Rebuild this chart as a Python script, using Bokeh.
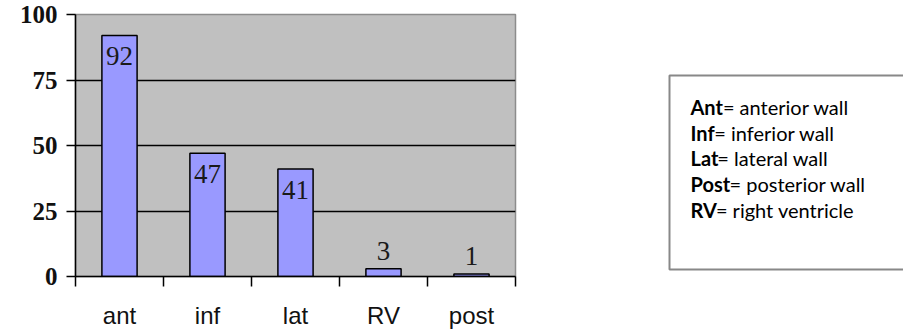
from bokeh.plotting import figure
from bokeh.layouts import row
from bokeh.models import Range1d, FixedTicker, ColumnDataSource
from bokeh.core.properties import value
from bokeh.embed import file_html
from bokeh.resources import INLINE

# Infarct location counts
categories = ["ant", "inf", "lat", "RV", "post"]
counts = [92, 47, 41, 3, 1]
y_ticks = [0, 25, 50, 75, 100]

# Abbreviation key
legend_abbr = ["Ant", "Inf", "Lat", "Post", "RV"]
legend_desc = ["= anterior wall", "= inferior wall", "= lateral wall",
               "= posterior wall", "= right ventricle"]

# plot frame borders shared by both panels (pixels)
B_TOP, B_BOTTOM = 14, 55
H = 331

# ---- bar chart -------------------------------------------------------------
p = figure(width=600, height=H, output_backend="svg", toolbar_location=None,
           x_range=Range1d(0, len(categories)), y_range=Range1d(0, 100),
           min_border_left=75, min_border_right=85, min_border_top=B_TOP,
           min_border_bottom=B_BOTTOM)
p.background_fill_color = "#C0C0C0"
p.border_fill_color = "white"
p.outline_line_color = "#8C8C8C"
p.outline_line_width = 1.5

centers = [i + 0.5 for i in range(len(categories))]
src = ColumnDataSource(dict(
    x=centers,
    top=counts,
    label=[str(c) for c in counts],
    yoff=[12 if c >= 10 else -18 for c in counts],
    base=["top" if c >= 10 else "alphabetic" for c in counts],
))

p.vbar(x="x", top="top", width=0.4, source=src,
       fill_color="#9999FF", line_color="black", line_width=1.5)

p.text(x="x", y="top", text="label", y_offset="yoff", source=src,
       text_align="center", text_baseline="base",
       text_font=value("Liberation Serif"), text_font_size="27px",
       text_color="#1a1a1a")

# grid
p.xgrid.visible = False
p.ygrid.ticker = FixedTicker(ticks=[25, 50, 75])
p.ygrid.grid_line_color = "black"
p.ygrid.grid_line_width = 1.3

# y axis
ya = p.yaxis[0]
ya.ticker = FixedTicker(ticks=y_ticks)
ya.axis_line_color = "black"
ya.axis_line_width = 1.5
ya.major_tick_line_color = "black"
ya.major_tick_line_width = 1.5
ya.major_tick_out = 9
ya.major_tick_in = 0
ya.minor_tick_line_color = None
ya.major_label_standoff = 9
ya.major_label_text_font = "Liberation Serif"
ya.major_label_text_font_style = "bold"
ya.major_label_text_font_size = "25px"
ya.major_label_text_color = "#111111"

# x axis: labels at bar centres, ticks between categories
xa = p.xaxis[0]
xa.ticker = FixedTicker(ticks=centers, minor_ticks=list(range(len(categories) + 1)))
xa.major_label_overrides = {c: name for c, name in zip(centers, categories)}
xa.axis_line_color = "black"
xa.axis_line_width = 1.5
xa.major_tick_line_color = None
xa.major_tick_out = 0
xa.major_tick_in = 0
xa.minor_tick_line_color = "black"
xa.minor_tick_line_width = 1.5
xa.minor_tick_out = 10
xa.minor_tick_in = 0
xa.major_label_standoff = 15
xa.major_label_text_font = "Liberation Sans"
xa.major_label_text_font_size = "24px"
xa.major_label_text_color = "#111111"

# ---- abbreviation key --------------------------------------------------------
# y range runs top-down in pixels over the same frame as the chart
k = figure(width=303, height=H, output_backend="svg", toolbar_location=None,
           x_range=Range1d(0, 303), y_range=Range1d(H - B_BOTTOM, B_TOP),
           min_border_left=0, min_border_right=0, min_border_top=B_TOP,
           min_border_bottom=B_BOTTOM, x_axis_type=None, y_axis_type=None)
k.grid.visible = False
k.outline_line_color = None
k.background_fill_color = "white"
k.border_fill_color = "white"

# key frame (runs off the right edge)
k.quad(left=[69], right=[330], top=[75], bottom=[269],
       fill_color="white", line_color="#888888", line_width=2)

text_left = 90
font_px = 20
baselines = [106.7 + 25.6 * i for i in range(len(legend_abbr))]
# approximate advance widths (em) of the bold abbreviations
prefix_em = [1.62, 1.19, 1.34, 1.95, 1.27]

k.text(x=[text_left] * len(legend_abbr), y=baselines, text=legend_abbr,
       text_baseline="alphabetic", text_align="left",
       text_font=value("Lato"), text_font_style="bold",
       text_font_size=f"{font_px}px", text_color="black")
k.text(x=[text_left + w * font_px for w in prefix_em], y=baselines, text=legend_desc,
       text_baseline="alphabetic", text_align="left",
       text_font=value("Lato"), text_font_size=f"{font_px}px", text_color="black")

layout = row(p, k, spacing=0)
open("out.html", "w").write(file_html(layout, INLINE))
